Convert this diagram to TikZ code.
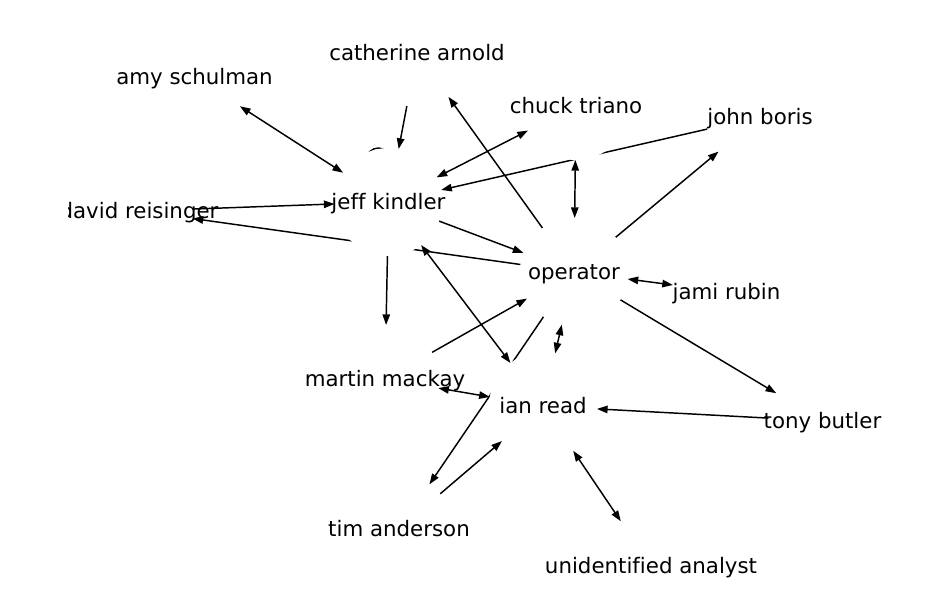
\documentclass[tikz,border=0pt]{standalone}
\usepackage{fontspec}
\setmainfont[Ligatures=CommonOff]{DejaVu Sans}
\usetikzlibrary{arrows.meta}
\pgfdeclarelayer{background}
\pgfsetlayers{background,main}

\begin{document}
\begin{tikzpicture}[x=0.75pt, y=-0.75pt,
		person/.style={circle, fill=white, minimum size=81pt, inner sep=0pt, outer sep=0pt, label={[nametext]center:#1}},
		nametext/.style={font=\fontsize{16}{19}\selectfont, inner sep=0pt, text height=11.4pt, text depth=0pt},
		wire/.style={line width=1.1pt},
		link/.style={wire, -{Triangle[length=8pt, width=5.6pt]}},
		both/.style={wire, {Triangle[length=8pt, width=5.6pt]}-{Triangle[length=8pt, width=5.6pt]}}]
				\useasboundingbox (0, 0) rectangle (948, 610);
				% People and links:
				\begin{scope}
					\clip (68, 0) rectangle (948, 610);
					\node[person={catherine arnold}] (catherine) at (417, 53){};
					\node[person={amy schulman}] (amy) at (194.5, 77){};
					\node[person={chuck triano}] (chuck) at (576, 106){};
					\node[person={john boris}] (john) at (760, 117){};
					\node[person={jeff kindler}] (jeff) at (388.5, 202){};
					\node[person={david reisinger}] (david) at (139, 211){};
					\node[person={operator}] (operator) at (574, 272){};
					\node[person={jami rubin}] (jami) at (726.5, 292){};
					\node[person={martin mackay}] (martin) at (385, 379){};
					\node[person={ian read}] (ian) at (543, 406){};
					\node[person={tony butler}] (tony) at (822.5, 421){};
					\node[person={tim anderson}] (tim) at (399, 529){};
					\node[person={unidentified analyst}] (analyst) at (651, 566){};
				\end{scope}
				\begin{pgfonlayer}{background}
					\draw[both] (amy) -- (jeff);
					\draw[link] (catherine) -- (jeff);
					\draw[both] (chuck) -- (jeff);
					\draw[link] (john) -- (jeff);
					\draw[link] (david) -- (jeff);
					\draw[wire] ([shift={(-10, -41.5)}]jeff.center) circle[radius=12.5];
					\draw[link] (jeff) -- (operator);
					\draw[link] (jeff) -- (martin);
					\draw[both] (jeff) -- (ian);
					\draw[link] (operator) -- (catherine);
					\draw[both] (chuck) -- (operator);
					\draw[link] (operator) -- (david);
					\draw[link] (operator) -- (john);
					\draw[both] (operator) -- (jami);
					\draw[link] (operator) -- (tony);
					\draw[link] (operator) -- (tim);
					\draw[both] (operator) -- (ian);
					\draw[link] (martin) -- (operator);
					\draw[both] (martin) -- (ian);
					\draw[link] (tony) -- (ian);
					\draw[link] (tim) -- (ian);
					\draw[both] (ian) -- (analyst);
				\end{pgfonlayer}
			\end{tikzpicture}
\end{document}
